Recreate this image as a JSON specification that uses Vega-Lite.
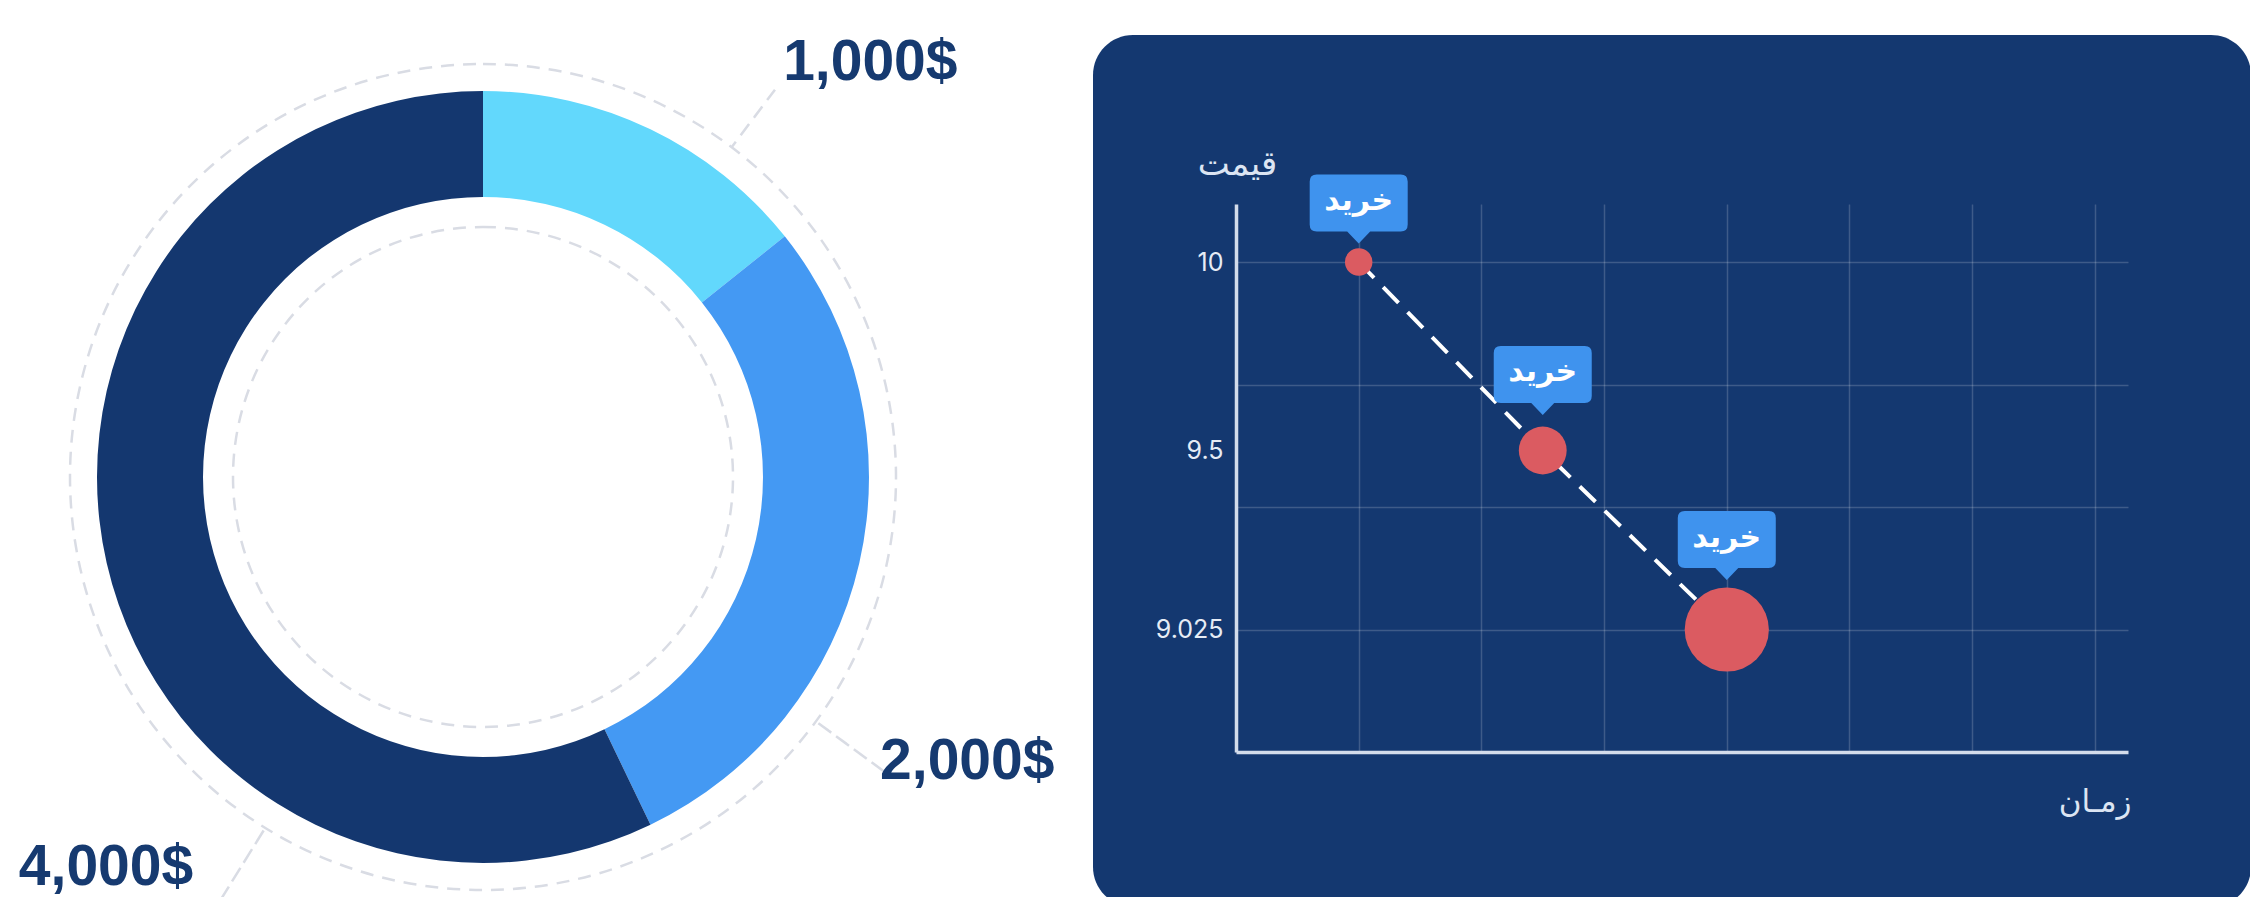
{
  "$schema": "https://vega.github.io/schema/vega-lite/v6.json",
  "background": "white",
  "padding": {"left": 0, "top": 33, "right": 0, "bottom": 0},
  "autosize": {"type": "pad"},
  "bounds": "flush",
  "spacing": 127,
  "config": {"view": {"stroke": null}},
  "hconcat": [
    {
      "width": 966,
      "height": 884,
      "data": {"values": [
        {"label": "1,000$", "amount": 1000},
        {"label": "2,000$", "amount": 2000},
        {"label": "4,000$", "amount": 4000}
      ]},
      "layer": [
        {
          "transform": [{"filter": "datum.amount == 1000"}],
          "mark": {"type": "arc", "theta": 0, "theta2": 6.2832, "innerRadius": 0, "outerRadius": 413, "filled": false, "stroke": "#D9DCE4", "strokeWidth": 2.5, "strokeDash": [13, 9]},
          "encoding": {}
        },
        {
          "transform": [{"filter": "datum.amount == 1000"}],
          "mark": {"type": "arc", "theta": 0, "theta2": 6.2832, "innerRadius": 0, "outerRadius": 250, "filled": false, "stroke": "#D9DCE4", "strokeWidth": 2.5, "strokeDash": [13, 9]},
          "encoding": {}
        },
        {
          "mark": {"type": "arc", "innerRadius": 280, "outerRadius": 386},
          "encoding": {
            "theta": {"field": "amount", "type": "quantitative", "stack": true},
            "order": {"field": "amount", "sort": "ascending"},
            "color": {"field": "label", "type": "nominal", "scale": {"domain": ["1,000$", "2,000$", "4,000$"], "range": ["#62D8FC", "#4499F3", "#14376F"]}, "legend": null}
          }
        },
        {
          "mark": {"type": "arc", "innerRadius": 413, "filled": false, "stroke": "#D9DCE4", "strokeWidth": 2.5, "strokeDash": [13, 9]},
          "encoding": {
            "theta": {"field": "amount", "type": "quantitative", "scale": {"type": "linear", "domain": [1000, 2000, 4000], "range": [0.646, 2.204, 3.697], "zero": false}},
            "theta2": {"field": "amount"},
            "radius": {"field": "amount", "type": "quantitative", "scale": {"type": "linear", "domain": [1000, 2000, 4000], "range": [485, 498, 520], "zero": false}}
          }
        },
        {
          "mark": {"type": "text", "font": "Liberation Sans", "fontSize": 57, "fontWeight": "bold", "color": "#163A70", "align": "center", "baseline": "middle"},
          "encoding": {
            "theta": {"field": "amount", "type": "quantitative", "scale": {"type": "linear", "domain": [1000, 2000, 4000], "range": [0.752, 2.103, 3.909], "zero": false}},
            "radius": {"field": "amount", "type": "quantitative", "scale": {"type": "linear", "domain": [1000, 2000, 4000], "range": [567, 562, 543], "zero": false}},
            "text": {"field": "label"}
          }
        }
      ],
      "resolve": {"scale": {"theta": "independent", "radius": "independent"}}
    },
    {
      "width": 1158,
      "height": 872,
      "view": {"fill": "#143870", "cornerRadius": 40, "stroke": null},
      "data": {"values": [
        {"time": 1, "price": 10, "amount": 1000, "action": "خرید"},
        {"time": 2.5, "price": 9.5, "amount": 2000, "action": "خرید"},
        {"time": 4, "price": 9.025, "amount": 4000, "action": "خرید"}
      ]},
      "encoding": {
        "x": {
          "field": "time", "type": "quantitative",
          "scale": {"domain": [0, 7.27], "range": [143, 1035], "nice": false, "zero": false},
          "axis": {
            "orient": "top", "offset": -717, "values": [1, 2, 3, 4, 5, 6, 7],
            "labels": false, "ticks": false, "tickSize": 0,
            "grid": true, "gridColor": "#FFFFFF", "gridOpacity": 0.18, "gridWidth": 1.5,
            "domain": true, "domainColor": "#D3DCEB", "domainWidth": 3.5,
            "title": "زمـان", "titleFont": "DejaVu Sans", "titleFontSize": 31, "titleFontWeight": "normal", "titleColor": "#DCE5F3",
            "titleAngle": 0, "titleAlign": "right", "titleBaseline": "middle", "titleX": 1038, "titleY": 50
          }
        },
        "y": {
          "field": "price", "type": "quantitative",
          "scale": {"domain": [8.7, 10.154], "range": [717, 169], "nice": false, "zero": false},
          "axis": {
            "orient": "left", "offset": -143, "values": [10, 9.675, 9.5, 9.35, 9.025],
            "labelExpr": "indexof([10, 9.5, 9.025], datum.value) >= 0 ? format(datum.value, '~g') : ''",
            "labelFont": "Inter", "labelFontSize": 25, "labelColor": "#E6ECF5", "labelPadding": 13,
            "ticks": false, "tickSize": 0,
            "grid": true, "gridColor": "#FFFFFF", "gridWidth": 1.5,
            "gridOpacity": {"condition": {"test": "datum.value == 9.5", "value": 0}, "value": 0.18},
            "domain": true, "domainColor": "#D3DCEB", "domainWidth": 3.5,
            "title": "قیمت", "titleFont": "DejaVu Sans", "titleFontSize": 34, "titleFontWeight": "normal", "titleColor": "#DCE5F3",
            "titleAngle": 0, "titleAlign": "center", "titleBaseline": "middle", "titleX": 1, "titleY": 129
          }
        }
      },
      "layer": [
        {
          "mark": {"type": "line", "color": "#FFFFFF", "strokeWidth": 4, "strokeDash": [22, 13]}
        },
        {
          "mark": {"type": "circle", "color": "#DB5B61", "opacity": 1},
          "encoding": {
            "size": {"field": "amount", "type": "quantitative", "scale": {"type": "linear", "domain": [1000, 2000, 4000], "range": [755, 2290, 7088], "zero": false}, "legend": null}
          }
        },
        {
          "transform": [{"filter": "datum.amount == 1000"}],
          "layer": [
            {"mark": {"type": "point", "shape": "M -0.84 -0.57 L 0.84 -0.57 Q 0.98 -0.57 0.98 -0.43 L 0.98 0.43 Q 0.98 0.57 0.84 0.57 L 0.23 0.57 L 0 0.81 L -0.23 0.57 L -0.84 0.57 Q -0.98 0.57 -0.98 0.43 L -0.98 -0.43 Q -0.98 -0.57 -0.84 -0.57 Z", "size": 10000, "filled": true, "color": "#3F93EE", "opacity": 1, "strokeWidth": 0, "yOffset": -59}},
            {"mark": {"type": "text", "font": "DejaVu Sans", "fontWeight": "bold", "fontSize": 30, "color": "#FFFFFF", "align": "center", "baseline": "middle", "yOffset": -61}, "encoding": {"text": {"field": "action"}}}
          ]
        },
        {
          "transform": [{"filter": "datum.amount == 2000"}],
          "layer": [
            {"mark": {"type": "point", "shape": "M -0.84 -0.57 L 0.84 -0.57 Q 0.98 -0.57 0.98 -0.43 L 0.98 0.43 Q 0.98 0.57 0.84 0.57 L 0.23 0.57 L 0 0.81 L -0.23 0.57 L -0.84 0.57 Q -0.98 0.57 -0.98 0.43 L -0.98 -0.43 Q -0.98 -0.57 -0.84 -0.57 Z", "size": 10000, "filled": true, "color": "#3F93EE", "opacity": 1, "strokeWidth": 0, "yOffset": -76}},
            {"mark": {"type": "text", "font": "DejaVu Sans", "fontWeight": "bold", "fontSize": 30, "color": "#FFFFFF", "align": "center", "baseline": "middle", "yOffset": -78}, "encoding": {"text": {"field": "action"}}}
          ]
        },
        {
          "transform": [{"filter": "datum.amount == 4000"}],
          "layer": [
            {"mark": {"type": "point", "shape": "M -0.84 -0.57 L 0.84 -0.57 Q 0.98 -0.57 0.98 -0.43 L 0.98 0.43 Q 0.98 0.57 0.84 0.57 L 0.23 0.57 L 0 0.81 L -0.23 0.57 L -0.84 0.57 Q -0.98 0.57 -0.98 0.43 L -0.98 -0.43 Q -0.98 -0.57 -0.84 -0.57 Z", "size": 10000, "filled": true, "color": "#3F93EE", "opacity": 1, "strokeWidth": 0, "yOffset": -90}},
            {"mark": {"type": "text", "font": "DejaVu Sans", "fontWeight": "bold", "fontSize": 30, "color": "#FFFFFF", "align": "center", "baseline": "middle", "yOffset": -92}, "encoding": {"text": {"field": "action"}}}
          ]
        }
      ]
    }
  ]
}
